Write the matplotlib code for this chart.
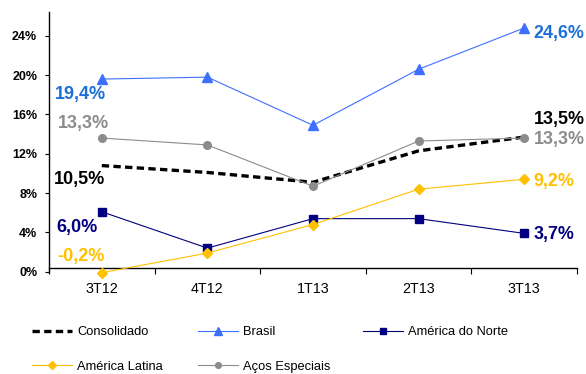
import matplotlib
matplotlib.use("Agg")
import matplotlib.pyplot as plt

plt.rcParams['font.family'] = ['Liberation Sans', 'DejaVu Sans']

categories = ["3T12", "4T12", "1T13", "2T13", "3T13"]
consolidado = [10.8, 10.1, 9.1, 12.3, 13.7]
brasil = [19.6, 19.8, 14.9, 20.6, 24.8]
america_norte = [6.1, 2.4, 5.4, 5.4, 3.9]
america_latina = [-0.1, 1.9, 4.8, 8.4, 9.4]
acos_especiais = [13.6, 12.9, 8.7, 13.3, 13.6]

yticks = [0, 4, 8, 12, 16, 20, 24]
ytick_labels = ["0%", "4%", "8%", "12%", "16%", "20%", "24%"]

# value labels: (text, x, y, color)
left_labels = [("19,4%", -0.20, 18.07, "#1C6FD8"),
               ("13,3%", -0.17, 15.04, "#8C8C8C"),
               ("10,5%", -0.215, 9.34, "#000000"),
               ("6,0%", -0.235, 4.48, "#000080"),
               ("-0,2%", -0.20, 1.50, "#FFC000")]
right_labels = [("24,6%", 4.09, 24.28, "#1C6FD8"),
                ("13,5%", 4.09, 15.45, "#000000"),
                ("13,3%", 4.09, 13.41, "#8C8C8C"),
                ("9,2%", 4.09, 9.16, "#FFC000"),
                ("3,7%", 4.09, 3.81, "#000080")]

fig = plt.figure(figsize=(5.86, 3.74), dpi=100)
ax = fig.add_axes([0.0836, 0.2735, 0.901, 0.6937])

x = list(range(len(categories)))

h_cons, = ax.plot(x, consolidado, color="black", lw=2.4, dashes=(2.2, 1.3),
                  label="Consolidado", clip_on=False, zorder=3)
h_bra, = ax.plot(x, brasil, color="#3F6FFF", lw=0.8, marker="^", ms=7,
                 label="Brasil", clip_on=False, zorder=3)
h_an, = ax.plot(x, america_norte, color="#000080", lw=0.8, marker="s", ms=6,
                label="América do Norte", clip_on=False, zorder=3)
h_al, = ax.plot(x, america_latina, color="#FFC000", lw=0.8, marker="D", ms=5,
                label="América Latina", clip_on=False, zorder=3)
h_ae, = ax.plot(x, acos_especiais, color="#8C8C8C", lw=0.8, marker="o", ms=5.5,
                label="Aços Especiais", clip_on=False, zorder=3)

ax.set_xlim(-0.5, 4.5)
ax.set_ylim(0, 26.4)

ax.spines['top'].set_visible(False)
ax.spines['right'].set_visible(False)
ax.spines['bottom'].set_position(('data', 0.35))
ax.spines['left'].set_linewidth(1.0)
ax.spines['bottom'].set_linewidth(1.0)

ax.set_yticks(yticks)
ax.set_yticklabels(ytick_labels, fontsize=9, fontweight='bold')
ax.tick_params(axis='y', direction='out', length=3, width=0.8, pad=5.5)

ax.set_xticks(x)
ax.set_xticklabels(categories, fontsize=10.3)
ax.set_xticks([i + 0.5 for i in range(-1, 5)], minor=True)
ax.tick_params(axis='x', which='major', length=0, pad=10)
ax.tick_params(axis='x', which='minor', direction='out', length=4, width=0.8)

for t, xx, yy, c in left_labels:
    ax.text(xx, yy, t, color=c, fontsize=13, fontweight='bold',
            ha='center', va='center')
for t, xx, yy, c in right_labels:
    ax.text(xx, yy, t, color=c, fontsize=12.9, fontweight='bold',
            ha='left', va='center', clip_on=False)

common = dict(frameon=False, fontsize=9.3, handlelength=3.1, handletextpad=0.4,
              labelspacing=1.75, borderpad=0, borderaxespad=0, loc='upper left',
              markerscale=0.75)
fig.legend(handles=[h_cons, h_al], bbox_transform=fig.transFigure,
           bbox_to_anchor=(0.0546, 0.128), **common)
fig.legend(handles=[h_bra, h_ae], bbox_transform=fig.transFigure,
           bbox_to_anchor=(0.338, 0.128), **common)
fig.legend(handles=[h_an], bbox_transform=fig.transFigure,
           bbox_to_anchor=(0.619, 0.128), **common)

fig.savefig("out.png", dpi=100)
